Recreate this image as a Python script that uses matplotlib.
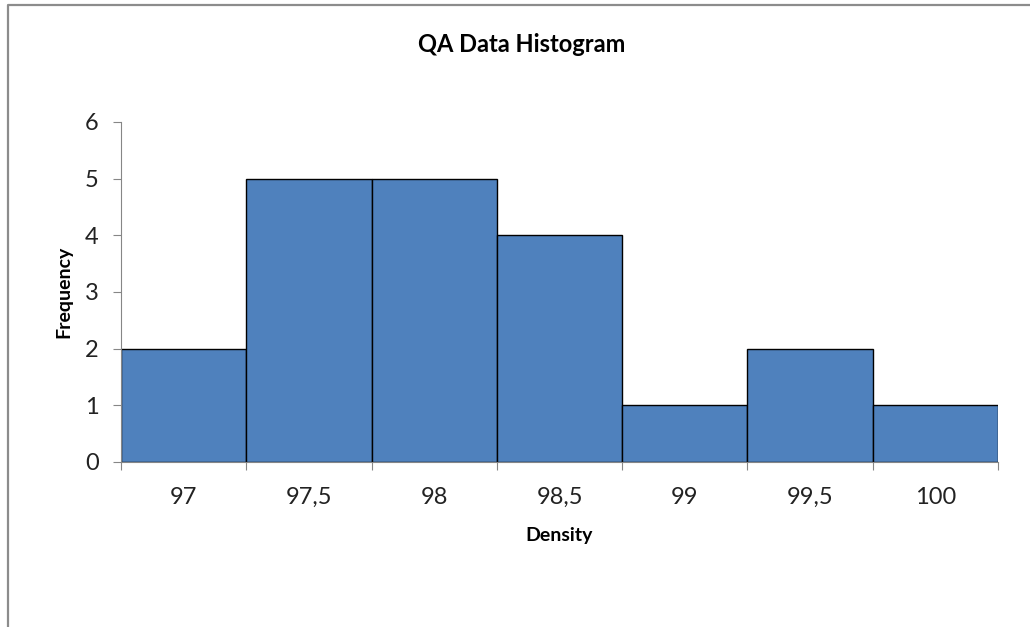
import numpy as np
import matplotlib
matplotlib.use('Agg')
import matplotlib.pyplot as plt
from matplotlib.lines import Line2D

plt.rcParams['font.family'] = ['Lato', 'DejaVu Sans']

# histogram bins and counts
bins = ['97', '97,5', '98', '98,5', '99', '99,5', '100']
counts = [2, 5, 5, 4, 1, 2, 1]

fig = plt.figure(figsize=(10.30, 6.27), dpi=100)
ax = fig.add_axes([121/1030, 1-462/627, 877/1030, 340/627])

x = np.arange(len(bins))
ax.bar(x, counts, width=1.0, color='#4F81BD', edgecolor='black', linewidth=1.0, zorder=2)

ax.set_xlim(-0.5, len(bins) - 0.5)
ax.set_ylim(0, 6)
ax.set_yticks(range(0, 7))

# ticks on the bin edges, labels at bin centres
ax.set_xticks(np.arange(len(bins) + 1) - 0.5)
ax.set_xticklabels([])
ax.set_xticks(x, minor=True)
ax.set_xticklabels(bins, minor=True)
ax.tick_params(axis='x', which='minor', length=0, pad=18, labelsize=17, colors='#222222')
ax.tick_params(axis='x', which='major', length=6, color='#868686')
ax.tick_params(axis='y', length=6, color='#868686', labelsize=17, labelcolor='#222222', pad=10)

for s in ['top', 'right']:
    ax.spines[s].set_visible(False)
for s in ['left', 'bottom']:
    ax.spines[s].set_color('#868686')
    ax.spines[s].set_zorder(3)

ax.set_xlabel('Density', fontsize=14, fontweight='bold', labelpad=14)
ax.set_ylabel('Frequency', fontsize=14, fontweight='bold', labelpad=9)
fig.text(522/1030, 1-45/627, 'QA Data Histogram', fontsize=17, fontweight='bold',
         ha='center', va='center')

# gray frame around the chart area
fig.add_artist(Line2D([8/1030, 8/1030, 1.0], [0.0, 1-5/627, 1-5/627],
                      transform=fig.transFigure, color='#8c8c8c', linewidth=1.6))

fig.savefig('out.png', dpi=100)
